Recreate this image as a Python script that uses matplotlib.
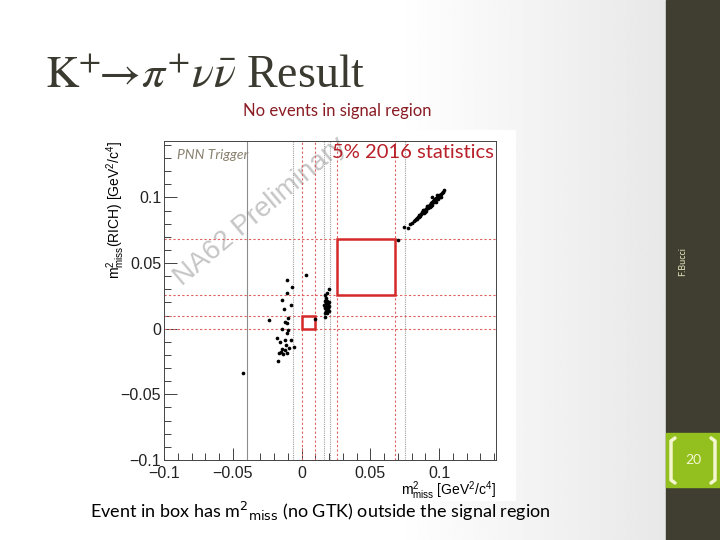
import numpy as np
import matplotlib
matplotlib.use("Agg")
import matplotlib.pyplot as plt
from matplotlib.patches import Rectangle
from matplotlib.lines import Line2D

plt.rcParams['mathtext.fontset'] = 'custom'
plt.rcParams['mathtext.rm'] = 'Liberation Sans'
plt.rcParams['mathtext.it'] = 'Liberation Sans:italic'

# events: m2miss (x) vs m2miss(RICH) (y)
left_x = [-0.0103, 0.0029, -0.0069, -0.0103, -0.0139, -0.0079, -0.0129, -0.0239, -0.0096,
          -0.0124, -0.0108, -0.0144, -0.0100, -0.0180, -0.0108, -0.0160, -0.0120, -0.0077,
          -0.0112, -0.0090, -0.0057, -0.0144, -0.0124, -0.0148, -0.0165, -0.0105, -0.0132,
          -0.0175, -0.0426]
left_y = [0.0368, 0.0406, 0.0315, 0.0274, 0.0221, 0.0178, 0.0150, 0.0069, 0.0079,
          0.0053, 0.0046, -0.0005, -0.0010, -0.0074, -0.0036, -0.0102, -0.0089, -0.0086,
          -0.0124, -0.0145, -0.0142, -0.0155, -0.0165, -0.0175, -0.0188, -0.0183, -0.0193,
          -0.0244, -0.0335]

mid_x = [0.0199, 0.0182, 0.0172, 0.0179, 0.0167, 0.0187, 0.0175, 0.0191, 0.0163, 0.0182,
         0.0199, 0.0170, 0.0189, 0.0177, 0.0196, 0.0184, 0.0167, 0.0201, 0.0172, 0.0167,
         0.0096, 0.0180, 0.0193, 0.0185]
mid_y = [0.0300, 0.0269, 0.0256, 0.0231, 0.0213, 0.0213, 0.0193, 0.0193, 0.0180, 0.0173,
         0.0173, 0.0155, 0.0155, 0.0137, 0.0137, 0.0122, 0.0122, 0.0206, 0.0168, 0.0091,
         0.0076, 0.0185, 0.0162, 0.0145]

band_x = [0.0700, 0.0742, 0.0770, 0.0790, 0.0805, 0.0815, 0.0822, 0.0830, 0.0838, 0.0845,
          0.0850, 0.0856, 0.0862, 0.0868, 0.0873, 0.0878, 0.0884, 0.0889, 0.0893, 0.0898,
          0.0903, 0.0908, 0.0912, 0.0917, 0.0921, 0.0926, 0.0930, 0.0935, 0.0940, 0.0944,
          0.0949, 0.0953, 0.0958, 0.0962, 0.0967, 0.0972, 0.0977, 0.0982, 0.0988, 0.0994,
          0.1000, 0.1007, 0.1015, 0.1022, 0.1030, 0.1038, 0.0880, 0.0915, 0.0950, 0.0985,
          0.0840, 0.0862, 0.0895, 0.0905, 0.0932, 0.0945, 0.0960, 0.0975, 0.0992, 0.1010,
          0.0852, 0.0870, 0.0888, 0.0920, 0.0938, 0.0968, 0.1003, 0.1025]
band_y = [0.0675, 0.0772, 0.0764, 0.0795, 0.0808, 0.0822, 0.0826, 0.0838, 0.0842, 0.0853,
          0.0856, 0.0866, 0.0868, 0.0877, 0.0880, 0.0886, 0.0894, 0.0896, 0.0904, 0.0906,
          0.0914, 0.0916, 0.0925, 0.0926, 0.0934, 0.0938, 0.0944, 0.0946, 0.0955, 0.0958,
          0.0964, 0.0967, 0.0975, 0.0977, 0.0985, 0.0988, 0.0994, 0.0998, 0.1004, 0.1010,
          0.1016, 0.1022, 0.1030, 0.1036, 0.1044, 0.1058, 0.0902, 0.0935, 0.1003, 0.1020,
          0.0835, 0.0860, 0.0889, 0.0898, 0.0928, 0.0940, 0.0962, 0.0968, 0.0985, 0.1005,
          0.0848, 0.0874, 0.0882, 0.0918, 0.0932, 0.0976, 0.1000, 0.1040]

# cut lines and boxes
gray_solid = [-0.04]
gray_dotted = [-0.006, 0.016, 0.021, 0.075]
red_cuts = [0.0, 0.01, 0.026, 0.068]
boxes = [(0.0, 0.01), (0.026, 0.068)]

fig = plt.figure(figsize=(7.2, 5.4), dpi=100)

# slide background gradient
bg = fig.add_axes([0, 0, 1, 1], zorder=-10)
grad = np.linspace(0, 1, 256)
grad = np.clip((grad - 0.55) / 0.37, 0, 1)
bg.imshow(np.tile(1 - 0.09 * grad, (2, 1)), cmap='gray', vmin=0, vmax=1,
          aspect='auto', extent=[0, 1, 0, 1])
bg.set_xlim(0, 1)
bg.set_ylim(0, 1)
bg.axis('off')
# inserted plot image background
bg.add_patch(Rectangle((105 / 720, 1 - 500 / 540), 410 / 720, 370 / 540,
                       color='white', zorder=2))
# right side bar
bg.add_patch(Rectangle((666 / 720, 0), 54 / 720, 1, color='#3f3e30', zorder=3))
bg.add_patch(Rectangle((666 / 720, 1 - 487 / 540), 54 / 720, 54 / 540, color='#93c01f', zorder=4))
bg.text(683 / 720, 1 - 262 / 540, 'F.Bucci', rotation=90, ha='center', va='center',
        color='#e6e8c0', fontsize=6.5, family='Lato', zorder=5)
bg.text(693 / 720, 1 - 460 / 540, '20', ha='center', va='center', color='#f4f6d0',
        fontsize=10, family='Lato', zorder=5)
for xs in ([675, 671, 671, 675], [711, 715, 715, 711]):
    bg.add_line(Line2D(np.array(xs) / 720, 1 - np.array([438, 441, 480, 483]) / 540,
                       color='#f4f6d0', lw=2.5, solid_capstyle='round', zorder=5))

fig.text(45 / 720, 1 - 88 / 540, r'$\mathrm{K}^{+}\!\!\rightarrow\!\pi^{+}\nu\bar{\nu}$ Result',
         family='Liberation Serif', math_fontfamily='stix', fontsize=33, color='#3b3a30',
         ha='left', va='baseline')
fig.text(337 / 720, 1 - 111 / 540, 'No events in signal region', family='Lato', fontsize=12,
         color='#8a1c24', ha='center', va='center')
fig.text(90 / 720, 1 - 518 / 540, r'Event in box has m$^{2}$$_{\mathrm{miss}}$ (no GTK) outside the signal region',
         family='Lato', math_fontfamily='dejavusans', fontsize=13, color='black',
         ha='left', va='baseline')

ax = fig.add_axes([164 / 720, 1 - 460 / 540, 332 / 720, 319 / 540])
ax.set_xlim(-0.1, 0.1413)
ax.set_ylim(-0.1, 0.143)

for x in gray_solid:
    ax.axvline(x, color='#8c8c8c', lw=0.8)
for x in gray_dotted:
    ax.axvline(x, color='#a0a0a0', lw=0.8, ls=(0, (1, 1)))
for v in red_cuts:
    ax.axvline(v, color='#e06060', lw=0.8, ls=(0, (2, 2)))
    ax.axhline(v, color='#e06060', lw=0.8, ls=(0, (2, 2)))
for lo, hi in boxes:
    ax.add_patch(Rectangle((lo, lo), hi - lo, hi - lo, fill=False, ec='#d42a2a', lw=1.8, zorder=4))

ax.scatter(left_x + mid_x + band_x, left_y + mid_y + band_y, s=7, c='black', marker='o',
           lw=0, zorder=5)

ax.text(0.04, 0.955, 'PNN Trigger', transform=ax.transAxes, fontsize=10, style='italic',
        family='Lato', color='#8a8270', ha='left', va='center')
ax.text(0.995, 0.963, '5% 2016 statistics', transform=ax.transAxes, fontsize=14.5,
        family='Lato', color='#b8202a', ha='right', va='center')
ax.text(0.29, 0.78, 'NA62 Preliminary', transform=ax.transAxes, fontsize=20,
        family='Liberation Sans', color='#c6c6c6', rotation=40, ha='center', va='center',
        zorder=1)

ax.set_xticks([-0.1, -0.05, 0, 0.05, 0.1])
ax.set_xticklabels(['\u22120.1', '\u22120.05', '0', '0.05', '0.1'])
ax.set_yticks([-0.1, -0.05, 0, 0.05, 0.1])
ax.set_yticklabels(['\u22120.1', '\u22120.05', '0', '0.05', '0.1'])
ax.set_xticks(np.arange(-0.1, 0.141, 0.01), minor=True)
ax.set_yticks(np.arange(-0.1, 0.141, 0.01), minor=True)
ax.tick_params(which='both', direction='in', top=False, right=False, labelsize=11.5,
               colors='#222222', width=0.6)
ax.tick_params(which='major', length=9)
ax.tick_params(which='minor', length=5)
ax.tick_params(axis='y', pad=2)
ax.tick_params(axis='x', pad=4)
for lab in ax.get_xticklabels() + ax.get_yticklabels():
    lab.set_family('Liberation Sans')
for sp in ax.spines.values():
    sp.set_color('#444444')
    sp.set_linewidth(0.7)

ax.set_xlabel(r'm$^{2}_{\mathrm{miss}}$ [GeV$^{2}$/c$^{4}$]', family='Liberation Sans',
              fontsize=10, loc='right')
ax.set_ylabel(r'm$^{2}_{\mathrm{miss}}$(RICH) [GeV$^{2}$/c$^{4}$]', family='Liberation Sans',
              fontsize=10, loc='top')
ax.xaxis.set_label_coords(1.0, -0.06)
ax.yaxis.set_label_coords(-0.11, 1.0)

fig.savefig('out.png', dpi=100)
